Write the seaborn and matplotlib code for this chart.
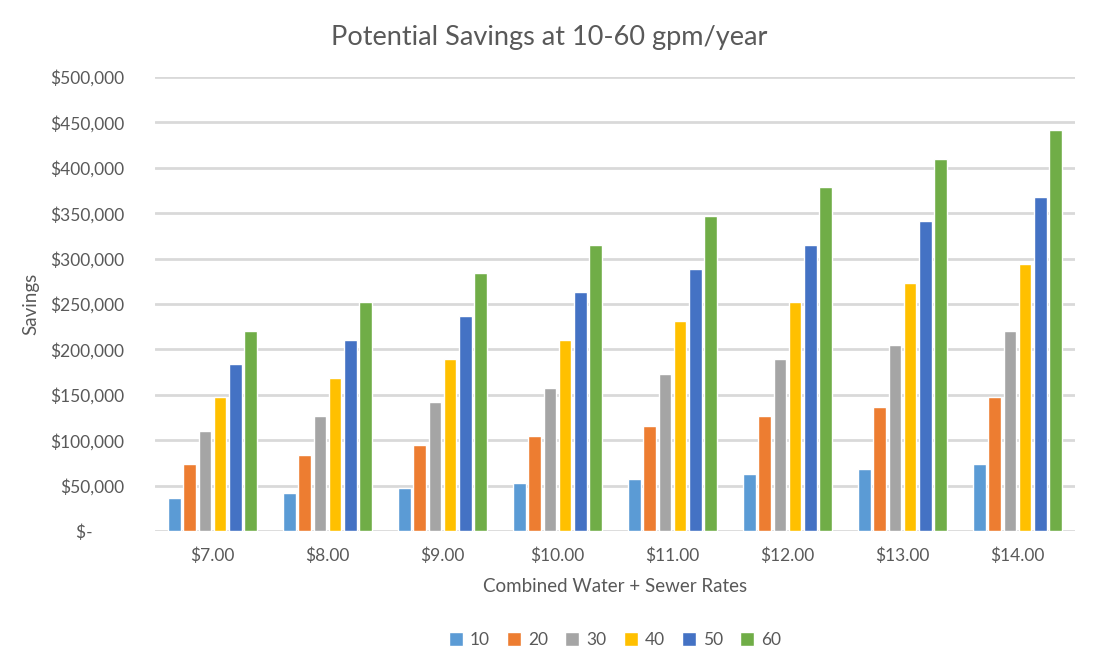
import seaborn as sns
import matplotlib.pyplot as plt
import pandas as pd

# Savings, one list per flow rate (gpm)
rates = ['$7.00', '$8.00', '$9.00', '$10.00', '$11.00', '$12.00', '$13.00', '$14.00']
gpm = ['10', '20', '30', '40', '50', '60']
s10 = [36792, 42048, 47304, 52560, 57816, 63072, 68328, 73584]
s20 = [73584, 84096, 94608, 105120, 115632, 126144, 136656, 147168]
s30 = [110376, 126144, 141912, 157680, 173448, 189216, 204984, 220752]
s40 = [147168, 168192, 189216, 210240, 231264, 252288, 273312, 294336]
s50 = [183960, 210240, 236520, 262800, 289080, 315360, 341640, 367920]
s60 = [220752, 252288, 283824, 315360, 346896, 378432, 409968, 441504]
yticks = [0, 50000, 100000, 150000, 200000, 250000, 300000, 350000, 400000, 450000, 500000]

colors = ['#5B9BD5', '#ED7D31', '#A5A5A5', '#FFC000', '#4472C4', '#70AD47']

rows = []
for g, vals in zip(gpm, [s10, s20, s30, s40, s50, s60]):
    for r, v in zip(rates, vals):
        rows.append({'rate': r, 'gpm': g, 'savings': v})
df = pd.DataFrame(rows)

sns.set_style("white")
plt.rcParams['font.family'] = ['Lato', 'DejaVu Sans']
txt = '#595959'

fig = plt.figure(figsize=(10.98, 6.71), dpi=100)
ax = fig.add_axes([155 / 1098, 1 - 531 / 671, 920 / 1098, 454 / 671])

sns.barplot(data=df, x='rate', y='savings', hue='gpm', order=rates, hue_order=gpm,
            palette=colors, width=0.79, gap=0.16, saturation=1, ax=ax)

ax.set_ylim(0, 500000)
ax.set_xlim(-0.5, len(rates) - 0.5)
ax.set_yticks(yticks)
ax.set_yticklabels(['$-       '] + [f'${v:,.0f}' for v in yticks[1:]])
ax.yaxis.grid(True, color='#D9D9D9', linewidth=2)
ax.set_axisbelow(True)
for s in ax.spines.values():
    s.set_visible(False)
ax.tick_params(axis='both', length=0, labelsize=12.5, labelcolor=txt)
ax.tick_params(axis='y', pad=22)
ax.tick_params(axis='x', pad=12)

ax.set_xlabel('Combined Water + Sewer Rates', fontsize=13.5, color=txt, labelpad=10)
ax.set_ylabel('Savings', fontsize=13.5, color=txt, labelpad=8)
fig.text(0.5, 1 - 37 / 671, 'Potential Savings at 10-60 gpm/year', ha='center', va='center',
         fontsize=19.5, color=txt)

ax.legend(loc='center', bbox_to_anchor=(0.5, -0.24), ncol=6, frameon=False,
          fontsize=12.5, labelcolor=txt, handlelength=0.8, handleheight=0.8,
          handletextpad=0.4, columnspacing=1.0)

plt.savefig('out.png', dpi=100)
